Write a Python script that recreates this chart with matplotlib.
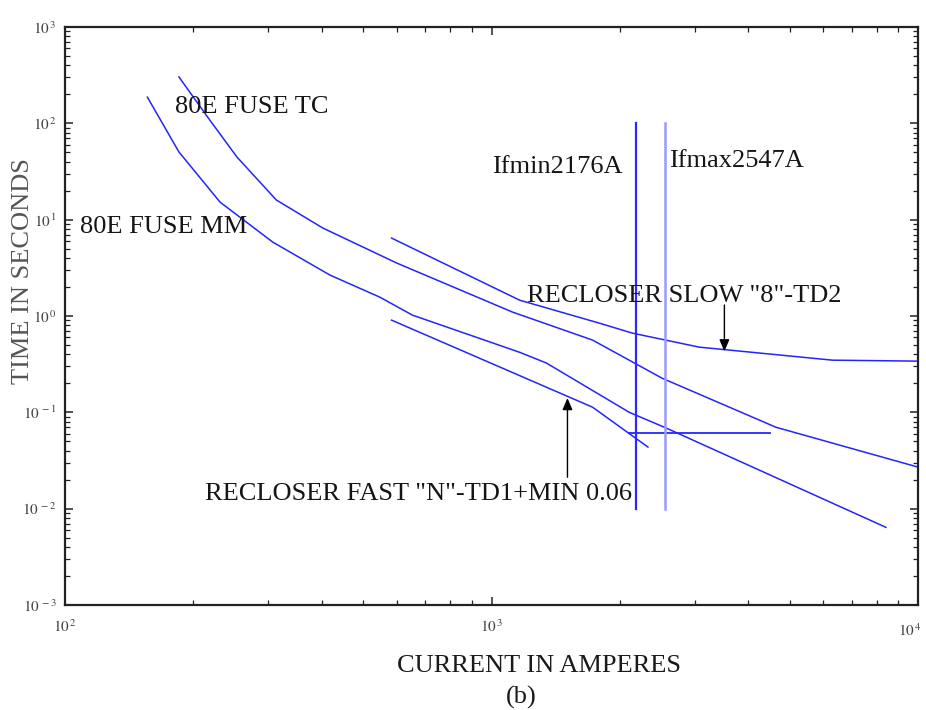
import math
import matplotlib
matplotlib.use("Agg")
import matplotlib.pyplot as plt
from matplotlib.ticker import LogLocator, FuncFormatter, NullFormatter

plt.rcParams['font.family'] = ['Liberation Serif', 'DejaVu Serif']
plt.rcParams['mathtext.fontset'] = 'stix'

# ---- data ----
fuse_mm_I = [156, 185, 231, 307, 418, 547, 653, 1164, 1345, 2104, 2570, 8410]
fuse_mm_t = [187, 50.4, 15.2, 5.85, 2.66, 1.57, 1.02, 0.42, 0.325, 0.10, 0.0686, 0.0064]

fuse_tc_I = [185, 216, 253, 313, 402, 600, 1119, 1726, 2512, 4645, 10000]
fuse_tc_t = [303, 116, 44.7, 16, 8.2, 3.54, 1.1, 0.562, 0.226, 0.070, 0.027]

slow_I = [583, 1164, 1790, 2139, 3070, 6300, 10000]
slow_t = [6.44, 1.46, 0.843, 0.664, 0.475, 0.348, 0.34]

fast_I = [583, 1726, 2327]
fast_t = [0.906, 0.113, 0.0436]

min_line_I = [2104, 4500]
min_line_t = [0.061, 0.061]

ifmin = 2176
ifmax = 2547
fault_t = [0.01, 100]

slow_arrow_I = 3516
slow_arrow_t = [1.30, 0.43]
fast_arrow_I = 1507
fast_arrow_t = [0.0212, 0.1406]

x_limits = [100, 10000]
y_limits = [0.001, 1000]

# ---- figure ----
W, H = 926, 710
fig = plt.figure(figsize=(W / 100, H / 100), dpi=100)
L, R, T, B = 65, 918, 27, 605
ax = fig.add_axes([L / W, 1 - B / H, (R - L) / W, (B - T) / H])

blue = '#2424ff'
ax.plot(fuse_mm_I, fuse_mm_t, color=blue, lw=1.1)
ax.plot(fuse_tc_I, fuse_tc_t, color=blue, lw=1.1)
ax.plot(slow_I, slow_t, color=blue, lw=1.1)
ax.plot(fast_I, fast_t, color=blue, lw=1.1)
ax.plot(min_line_I, min_line_t, color=blue, lw=1.3)
ax.plot([ifmin, ifmin], fault_t, color='#2a2aff', lw=1.6)
ax.plot([ifmax, ifmax], fault_t, color='#9a9aff', lw=1.8)

ax.set_xscale('log')
ax.set_yscale('log')
ax.set_xlim(*x_limits)
ax.set_ylim(*y_limits)

def label_text(v):
    e = int(round(math.log10(v)))
    return r"$10^{\,%d}$" % e

def fmt_y(v, pos):
    return label_text(v)

def fmt_x(v, pos):
    # the right-most label is drawn separately so that it stays inside the image
    if v >= x_limits[1] * 0.999:
        return ''
    return label_text(v)

ax.xaxis.set_major_locator(LogLocator(base=10, numticks=10))
ax.yaxis.set_major_locator(LogLocator(base=10, numticks=10))
ax.xaxis.set_minor_locator(LogLocator(base=10, subs=range(2, 10), numticks=20))
ax.yaxis.set_minor_locator(LogLocator(base=10, subs=range(2, 10), numticks=20))
ax.xaxis.set_major_formatter(FuncFormatter(fmt_x))
ax.yaxis.set_major_formatter(FuncFormatter(fmt_y))
ax.xaxis.set_minor_formatter(NullFormatter())
ax.yaxis.set_minor_formatter(NullFormatter())

tick_fs = 11
ax.tick_params(which='both', direction='in', top=True, right=True, colors='#222222',
               labelcolor='#444444', labelsize=tick_fs)
ax.tick_params(which='major', length=6, width=1.1)
ax.tick_params(which='minor', length=3.5, width=0.9)
ax.tick_params(axis='x', which='major', pad=10)
ax.tick_params(axis='y', which='major', pad=6)
for s in ax.spines.values():
    s.set_linewidth(1.6)
    s.set_color('#222222')

# right-most x tick label, nudged left to fit in the image
fig.text((R - 8) / W, 1 - 631 / H, label_text(x_limits[1]), fontsize=tick_fs,
         color='#444444', ha='center', va='center')

def axfrac(x, y):
    return ((x - L) / (R - L), (B - y) / (B - T))

fs = 19
tc = '#151515'
ax.text(*axfrac(175, 113), '80E FUSE TC', transform=ax.transAxes, fontsize=fs, color=tc, va='baseline')
ax.text(*axfrac(80, 233), '80E FUSE MM', transform=ax.transAxes, fontsize=fs, color=tc, va='baseline')
ax.text(*axfrac(492, 173), 'Ifmin2176A', transform=ax.transAxes, fontsize=fs, color=tc, va='baseline')
ax.text(*axfrac(669, 167), 'Ifmax2547A', transform=ax.transAxes, fontsize=fs, color=tc, va='baseline')
ax.text(*axfrac(527, 302), 'RECLOSER SLOW "8"-TD2', transform=ax.transAxes, fontsize=fs, color=tc, va='baseline')
ax.text(*axfrac(205, 500), 'RECLOSER FAST "N"-TD1+MIN 0.06', transform=ax.transAxes, fontsize=fs, color=tc, va='baseline')

arrow_kw = dict(arrowstyle='-|>,head_length=0.7,head_width=0.3', color='black', lw=1.0, shrinkA=0, shrinkB=0)
ax.annotate('', xy=(slow_arrow_I, slow_arrow_t[1]), xytext=(slow_arrow_I, slow_arrow_t[0]), arrowprops=arrow_kw)
ax.annotate('', xy=(fast_arrow_I, fast_arrow_t[1]), xytext=(fast_arrow_I, fast_arrow_t[0]), arrowprops=arrow_kw)

fig.text(397 / W, 1 - 672 / H, 'CURRENT IN AMPERES', fontsize=fs, color='#1a1a1a', ha='left', va='baseline')
fig.text(521 / W, 1 - 697 / H, '(b)', fontsize=fs, color='#1a1a1a', ha='center', va='center')
fig.text(23 / W, 1 - 271 / H, 'TIME IN SECONDS', fontsize=fs, color='#555555', rotation=90,
         ha='center', va='center')

fig.savefig('out.png', dpi=100)
